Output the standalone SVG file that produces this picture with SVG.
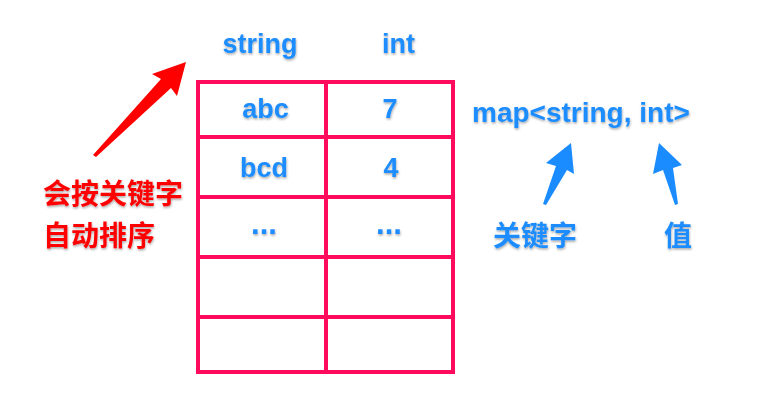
<svg xmlns="http://www.w3.org/2000/svg" width="764" height="412" viewBox="0 0 764 412">
<defs>
<filter id="sh" x="-10%" y="-20%" width="120%" height="150%">
<feDropShadow dx="0.5" dy="1.5" stdDeviation="1" flood-color="#000" flood-opacity="0.35"/>
</filter>
</defs>
<style>
.b{fill:#1a8cff;font-family:"Liberation Sans","Noto Sans CJK SC",sans-serif;font-weight:bold;font-size:27px;filter:url(#sh)}
.c{font-family:"Noto Sans CJK SC",sans-serif;font-weight:bold;font-size:28px;filter:url(#sh)}
.m{text-anchor:middle}
.d{font-size:31px}
.ln{stroke:#ff0a5c;stroke-width:4;fill:none;stroke-linecap:square}
</style>
<rect width="764" height="412" fill="#fff"/>
<g id="table">
<rect class="ln" x="198" y="82" width="255" height="290"/>
<line class="ln" x1="326" y1="82" x2="326" y2="372"/>
<line class="ln" x1="198" y1="137" x2="453" y2="137"/>
<line class="ln" x1="198" y1="197" x2="453" y2="197"/>
<line class="ln" x1="198" y1="257" x2="453" y2="257"/>
<line class="ln" x1="198" y1="317" x2="453" y2="317"/>
</g>
<g id="headers">
<text class="b m" x="260" y="53">string</text>
<text class="b m" x="398.5" y="53">int</text>
</g>
<g id="cells">
<text class="b m" x="265.5" y="118">abc</text>
<text class="b m" x="390" y="118">7</text>
<text class="b m" x="264" y="177">bcd</text>
<text class="b m" x="391" y="177">4</text>
<text class="b m d" x="264" y="234">...</text>
<text class="b m d" x="389" y="234">...</text>
</g>
<g id="maptype">
<text class="b" x="472" y="122" style="font-size:28px">map&lt;string, int&gt;</text>
</g>
<g id="labels">
<text class="c" x="43" y="204" fill="#ff0000">会按关键字</text>
<text class="c" x="43" y="246" fill="#ff0000">自动排序</text>
<text class="c" x="493" y="246" fill="#1a8cff">关键字</text>
<text class="c" x="664" y="246" fill="#1a8cff">值</text>
</g>
<g id="connectors">
<polygon fill="#ff0000" points="93,155 161,79 152,74 186,62 177,96 171,88 96,157"/>
<polygon fill="#1a8cff" points="543,204 556,166 546,163 571,143 574,174 567,170 546,205"/>
<polygon fill="#1a8cff" points="678,204 673,168 682,165 659,143 653,174 663,170 675,205"/>
</g>
</svg>
